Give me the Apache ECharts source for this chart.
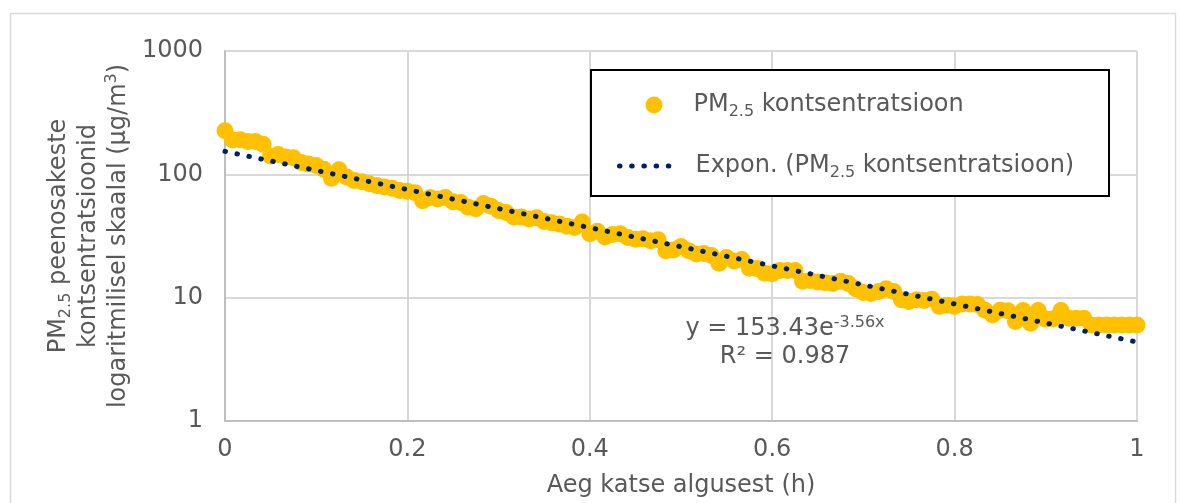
<!DOCTYPE html>
<html><head><meta charset="utf-8">
<script src="https://cdn.jsdelivr.net/npm/echarts@6/dist/echarts.min.js"></script>
<style>html,body{margin:0;padding:0;background:#fff}#c{width:1181px;height:503px}</style>
</head><body><div id="c"></div>
<script>
// time step between measurements (h)
const timeStepH = 1 / 120;
// PM2.5 concentration (µg/m3), one value per step
const pmValues = [
  226, 190, 191, 185, 185, 175, 141, 145, 138, 136,
  125, 121, 118, 110, 93, 109, 95, 89, 87, 84,
  81, 79, 77, 74, 73, 71, 61, 65, 63, 65,
  60, 59, 54, 52.5, 58, 55, 51, 49, 45, 45,
  43.5, 44.5, 41.5, 40.5, 39.5, 38, 37, 41, 33, 34.5,
  31, 32.5, 33, 30.7, 29.8, 30, 29, 29.5, 24, 24.3,
  26, 24, 22.6, 22.8, 22, 19, 21.2, 19.8, 20.4, 17.3,
  17.2, 15.8, 15.6, 16.6, 16.6, 16.6, 13.6, 13.8, 13.4, 13.2,
  13.0, 13.6, 13.0, 11.8, 11, 10.8, 11.2, 11.8, 11.2, 9.6,
  9.3, 9.6, 9.5, 9.7, 8.5, 8.7, 8.5, 8.9, 8.9, 8.8,
  7.9, 7.25, 7.9, 7.85, 6.4, 7.86, 6.2, 7.86, 6.7, 6.75,
  7.86, 6.8, 6.8, 6.8, 6, 6, 6, 6, 6, 6, 6
];
// exponential trendline endpoints (y = 153.43e^-3.56x at x = 0 and x = 1)
const trendPoints = [[0, 153.43], [1, 4.364]];
const xTickLabels = ['0', '0.2', '0.4', '0.6', '0.8', '1'];
const yTickLabels = ['1', '10', '100', '1000'];

const scatterData = pmValues.map((v, i) => [i * timeStepH, v]);

const FONT = 'DejaVu Sans';
const GRAY = '#595959';
const NAVY = '#002060';
const baseRich = {
  a: { fontFamily: FONT, fontSize: 24, color: GRAY, lineHeight: 30 },
  sub: { fontFamily: FONT, fontSize: 16, color: GRAY, lineHeight: 12, verticalAlign: 'bottom' },
  sup: { fontFamily: FONT, fontSize: 16, color: GRAY, lineHeight: 22, verticalAlign: 'top' }
};

const chart = echarts.init(document.getElementById('c'), null, { renderer: 'canvas' });
chart.setOption({
  animation: false,
  backgroundColor: '#fff',
  grid: { left: 225, right: 44, top: 51, bottom: 80, containLabel: false },
  xAxis: {
    type: 'value', min: 0, max: 1, interval: 0.2,
    axisLine: { show: true, lineStyle: { color: '#bfbfbf', width: 2 } },
    axisTick: { show: false },
    splitLine: { show: true, lineStyle: { color: '#d9d9d9', width: 2 } },
    axisLabel: {
      margin: 17, fontFamily: FONT, fontSize: 24, color: GRAY,
      formatter: (v) => xTickLabels[Math.round(v / 0.2)]
    },
    name: 'Aeg katse algusest (h)', nameLocation: 'middle', nameGap: 53,
    nameTextStyle: { fontFamily: FONT, fontSize: 24, color: GRAY }
  },
  yAxis: {
    type: 'log', logBase: 10, min: 1, max: 1000,
    axisLine: { show: true, lineStyle: { color: '#bfbfbf', width: 2 } },
    axisTick: { show: false },
    minorTick: { show: false },
    splitLine: { show: true, lineStyle: { color: '#d9d9d9', width: 2 } },
    axisLabel: {
      margin: 22, fontFamily: FONT, fontSize: 24, color: GRAY,
      formatter: (v) => yTickLabels[Math.round(Math.log10(v))]
    },
    name: '{a|PM}{sub|2.5}{a| peenosakeste}\n{a|kontsentratsioonid}\n{a|logaritmilisel skaalal (µg/m}{sup|3}{a|)}',
    nameLocation: 'middle', nameGap: 88, nameRotate: 90,
    nameTextStyle: { rich: baseRich, align: 'center' }
  },
  legend: [
    {
      data: ['PM2.5 kontsentratsioon'],
      left: 645.5, top: 93, padding: 0, z: 30,
      icon: 'circle', itemWidth: 17, itemHeight: 17,
      formatter: () => '{a|PM}{sub|2.5}{a| kontsentratsioon}',
      textStyle: { rich: baseRich, padding: [0, 0, 0, 26] },
      selectedMode: false
    },
    {
      data: ['Expon. (PM2.5 kontsentratsioon)'],
      left: 617, top: 154, padding: 0, z: 30,
      itemWidth: 52, itemHeight: 17,
      itemStyle: { color: 'rgba(0,0,0,0)', borderWidth: 0, opacity: 0 },
      lineStyle: { width: 5, type: [0.5, 11.7], cap: 'round', color: NAVY, opacity: 1 },
      formatter: () => '{a|Expon. (PM}{sub|2.5}{a| kontsentratsioon)}',
      textStyle: { rich: baseRich, padding: [0, 0, 0, 19] },
      selectedMode: false
    }
  ],
  graphic: [
    { type: 'rect', left: 8, top: 11, z: -10, silent: true,
      shape: { width: 1165, height: 520 },
      style: { fill: 'none', stroke: '#d9d9d9', lineWidth: 1.5 } },
    { type: 'rect', left: 590, top: 69, z: 10, silent: true,
      shape: { width: 518, height: 126 },
      style: { fill: '#fff', stroke: '#000', lineWidth: 2 } },
    { type: 'text', x: 785, y: 315, z: 20, silent: true,
      style: {
        text: '{a|y = 153.43e}{sup|-3.56x}\n{a|R² = 0.987}',
        align: 'center',
        rich: {
          a: { fontFamily: FONT, fontSize: 24, fill: GRAY, lineHeight: 28 },
          sup: { fontFamily: FONT, fontSize: 16, fill: GRAY, lineHeight: 20, verticalAlign: 'top' }
        }
      } }
  ],
  series: [
    {
      name: 'PM2.5 kontsentratsioon', type: 'scatter',
      data: scatterData, symbol: 'circle', symbolSize: 17,
      itemStyle: { color: '#FFC000', opacity: 1 }, z: 2
    },
    {
      name: 'Expon. (PM2.5 kontsentratsioon)', type: 'line',
      data: trendPoints, symbol: 'none', showSymbol: false, z: 3,
      itemStyle: { color: NAVY },
      lineStyle: { color: NAVY, width: 5, type: [0.5, 11.7], cap: 'round' }
    }
  ]
});
</script></body></html>
